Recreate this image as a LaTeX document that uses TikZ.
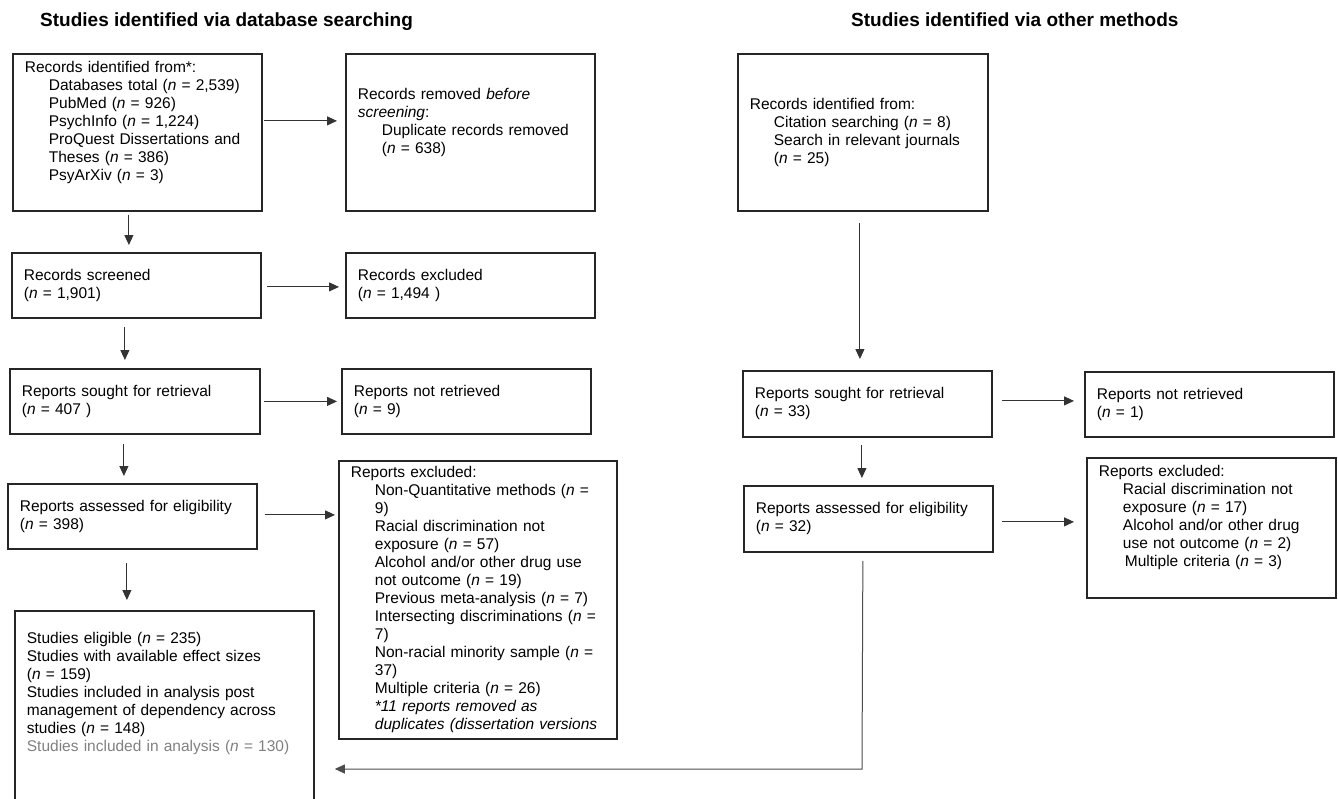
\documentclass[tikz,border=0pt]{standalone}
\usepackage{fontspec}
\setmainfont{Liberation Sans}
\usetikzlibrary{arrows.meta}
\tikzstyle{flowbox} = [rectangle, anchor=north west, draw=black!85, line width=1.8pt, align=left, inner xsep=12pt, font=\fontsize{15.5}{18}\selectfont]
\tikzstyle{heading} = [anchor=base west, inner sep=0pt, font=\bfseries\fontsize{19}{22}\selectfont]
\tikzstyle{arrow} = [line width=1pt, draw=black!80, ->, >={Triangle[length=10pt,width=9pt]}]
\newcommand{\itemIndent}{\hspace*{24pt}}

\begin{document}
\begin{tikzpicture}[x=1pt, y=-1pt]
\useasboundingbox (0,0) rectangle (1338,798);


% Headings

	\node (dbHeading) [heading] at (40,26.8) {Studies identified via database searching};

	\node (otherHeading) [heading] at (851,26.8) {Studies identified via other methods};


% Database searching

	\node (recordsIdent) [flowbox, text width=225pt, minimum height=157pt] at (12,53) {Records identified from*:\\
		\itemIndent Databases total (\textit{n} = 2,539)\\
		\itemIndent PubMed (\textit{n} = 926)\\
		\itemIndent PsychInfo (\textit{n} = 1,224)\\
		\itemIndent ProQuest Dissertations and\\
		\itemIndent Theses (\textit{n} = 386)\\
		\itemIndent PsyArXiv (\textit{n} = 3)\\ \strut};

	\node (recordsRemoved) [flowbox, text width=225pt, minimum height=157pt] at (345,53) {Records removed \textit{before}\\
		\textit{screening}:\\
		\itemIndent Duplicate records removed\\
		\itemIndent (\textit{n} = 638)\\ \strut};

	\node (recordsScreened) [flowbox, text width=225pt, minimum height=65pt] at (11,252) {Records screened\\(\textit{n} = 1,901)};

	\node (recordsExcluded) [flowbox, text width=225pt, minimum height=65pt] at (345,252) {Records excluded\\(\textit{n} = 1,494 )};

	\node (reportsSought) [flowbox, text width=226pt, minimum height=65pt] at (9,368) {Reports sought for retrieval\\(\textit{n} = 407 )};

	\node (reportsNotRetrieved) [flowbox, text width=225pt, minimum height=65pt] at (341,368) {Reports not retrieved\\(\textit{n} = 9)};

	\node (reportsAssessed) [flowbox, text width=225pt, minimum height=65pt] at (7,483) {Reports assessed for eligibility\\(\textit{n} = 398)};

	\node (reportsExcluded) [flowbox, text width=254pt, minimum height=278pt] at (338,460) {Reports excluded:\\
		\itemIndent Non-Quantitative methods (\textit{n} =\\
		\itemIndent 9)\\
		\itemIndent Racial discrimination not\\
		\itemIndent exposure (\textit{n} = 57)\\
		\itemIndent Alcohol and/or other drug use\\
		\itemIndent not outcome (\textit{n} = 19)\\
		\itemIndent Previous meta-analysis (\textit{n} = 7)\\
		\itemIndent Intersecting discriminations (\textit{n} =\\
		\itemIndent 7)\\
		\itemIndent Non-racial minority sample (\textit{n} =\\
		\itemIndent 37)\\
		\itemIndent Multiple criteria (\textit{n} = 26)\\
		\itemIndent \textit{*11 reports removed as}\\
		\itemIndent \textit{duplicates (dissertation versions}};

	\node (studiesIncluded) [flowbox, text width=275pt, inner ysep=21pt] at (14,610) {Studies eligible (\textit{n} = 235)\\
		Studies with available effect sizes\\
		(\textit{n} = 159)\\
		Studies included in analysis post\\
		management of dependency across\\
		studies (\textit{n} = 148)\\
		\textcolor{gray}{Studies included in analysis (\textit{n} = 130)}\\ \strut\\ \strut\\ \strut};


% Other methods

	\node (otherIdent) [flowbox, text width=226pt, minimum height=157pt] at (737,53) {Records identified from:\\
		\itemIndent Citation searching (\textit{n} = 8)\\
		\itemIndent Search in relevant journals\\
		\itemIndent (\textit{n} = 25)};

	\node (otherSought) [flowbox, text width=225pt, minimum height=66pt] at (742,370) {Reports sought for retrieval\\(\textit{n} = 33)};

	\node (otherNotRetrieved) [flowbox, text width=225pt, minimum height=65pt] at (1084,371) {Reports not retrieved\\(\textit{n} = 1)};

	\node (otherAssessed) [flowbox, text width=225pt, minimum height=66pt] at (743,485) {Reports assessed for eligibility\\(\textit{n} = 32)};

	\node (otherExcluded) [flowbox, text width=225pt, minimum height=140pt] at (1086,457) {Reports excluded:\\
		\itemIndent Racial discrimination not\\
		\itemIndent exposure (\textit{n} = 17)\\
		\itemIndent Alcohol and/or other drug\\
		\itemIndent use not outcome (\textit{n} = 2)\\
		\hspace*{26pt}Multiple criteria (\textit{n} = 3)\\ \strut};

	\coordinate (mergePoint) at (862,769);


% Database column arrows
	\draw [arrow, shorten <=1pt, shorten >=8pt] ([yshift=11.5pt]recordsIdent.east) -- ([yshift=11.5pt]recordsRemoved.west);
	\draw [arrow, shorten <=5pt, shorten >=6pt] ([yshift=-1.5pt]recordsScreened.east) -- ([yshift=-1.5pt]recordsExcluded.west);
	\draw [arrow, shorten <=3pt, shorten >=4pt] (reportsSought.east) -- (reportsNotRetrieved.west);
	\draw [arrow, shorten <=7pt, shorten >=3pt] ([yshift=1.5pt]reportsAssessed.east) -- ([yshift=1.5pt]reportsAssessed.east -| reportsExcluded.west);

	\draw [arrow, shorten <=3pt, shorten >=7pt] ([xshift=-8.5pt]recordsIdent.south) -- ([xshift=-7.5pt]recordsScreened.north);
	\draw [arrow, shorten <=8pt, shorten >=8pt] ([xshift=-11.5pt]recordsScreened.south) -- ([xshift=-10pt]reportsSought.north);
	\draw [arrow, shorten <=9pt, shorten >=7pt] ([xshift=-11pt]reportsSought.south) -- ([xshift=-8.5pt]reportsAssessed.north);
	\draw [arrow, shorten <=13pt, shorten >=10pt] ([xshift=-5.5pt]reportsAssessed.south) -- ([xshift=-37.5pt]studiesIncluded.north);


% Other methods arrows
	\draw [arrow, shorten <=11pt, shorten >=11pt] ([xshift=-3pt]otherIdent.south) -- ([xshift=-7.5pt]otherSought.north);
	\draw [arrow, shorten <=9pt, shorten >=10pt] ([yshift=3pt]otherSought.east) -- ([yshift=3.5pt]otherNotRetrieved.west);
	\draw [arrow, shorten <=7pt, shorten >=7pt] ([xshift=-5.5pt]otherSought.south) -- ([xshift=-6.5pt]otherAssessed.north);
	\draw [arrow, shorten <=8pt, shorten >=12pt] ([yshift=-3pt]otherAssessed.east) -- ([yshift=-3pt]otherAssessed.east -| otherExcluded.west);


% Merge into included studies
	\draw [arrow, draw=black!70, shorten <=8pt, shorten >=20pt] ([xshift=-5.5pt]otherAssessed.south) -- (mergePoint) -- (mergePoint -| studiesIncluded.east);


\end{tikzpicture}
\end{document}
